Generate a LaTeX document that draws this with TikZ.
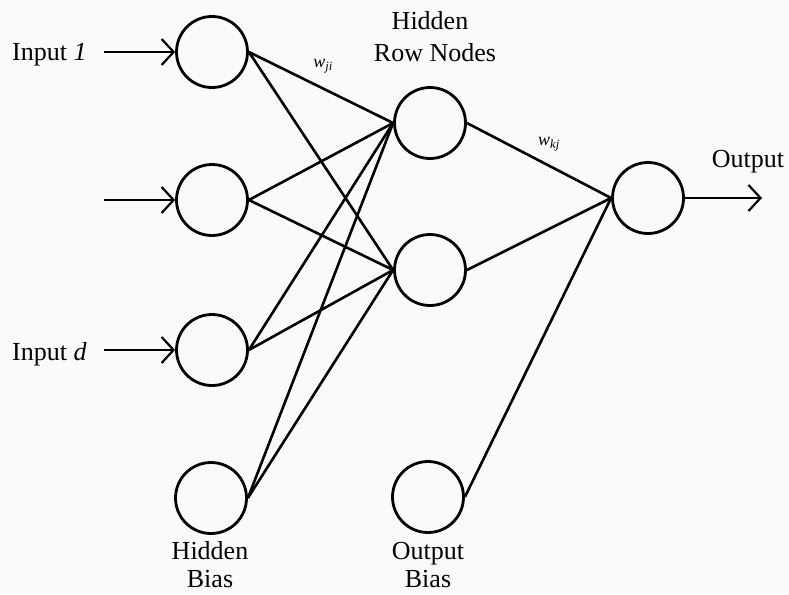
\documentclass[tikz,border=0pt]{standalone}
\usepackage{fontspec}
\setmainfont{Liberation Serif}
\usetikzlibrary{arrows.meta}
\begin{document}
\begin{tikzpicture}[x=1pt,y=-1pt,
  neuron/.style={circle,draw,line width=2.8pt,minimum size=71pt,inner sep=0pt},
  conn/.style={line width=2.6pt},
  inarrow/.style={line width=2.5pt,-{Straight Barb[length=12pt,width=26pt,line width=2.2pt]}},
  lbl/.style={font=\fontsize{26}{33}\selectfont,inner sep=0pt,anchor=base},
  wlbl/.style={font=\fontsize{18}{20}\selectfont\itshape,inner sep=0pt}]
\fill[gray!4] (0,0) rectangle (789,594);
\useasboundingbox (0,0) rectangle (789,594);
\node[neuron] (i1) at (212,52) {};
\node[neuron] (i2) at (212,200) {};
\node[neuron] (i3) at (212,350) {};
\node[neuron] (hb) at (211,498) {};
\node[neuron] (h1) at (430,123) {};
\node[neuron] (h2) at (430,270) {};
\node[neuron] (ob) at (428,497) {};
\node[neuron] (o) at (648,198) {};
\coordinate (s1) at (104,52);
\coordinate (s2) at (104,200);
\coordinate (s3) at (104,350);
\coordinate (e) at (762,198);
\node[lbl,anchor=base west] (l1) at (12,60) {Input \textit{1}};
\node[lbl,anchor=base west] (l3) at (12,360) {Input \textit{d}};
\node[lbl] (lh1) at (430,30) {Hidden};
\node[lbl] (lh2) at (435,62) {Row Nodes};
\node[lbl] (lo) at (748,167) {Output};
\node[lbl] (lhb1) at (210,559) {Hidden};
\node[lbl] (lhb2) at (210,587) {Bias};
\node[lbl] (lob1) at (428,559) {Output};
\node[lbl] (lob2) at (428,587) {Bias};
\node[wlbl] (wji) at (323,66) {w\textsubscript{ji}};
\node[wlbl] (wkj) at (549,144) {w\textsubscript{kj}};
\draw[inarrow] (s1) -- (i1.west);
\draw[inarrow] (s2) -- (i2.west);
\draw[inarrow] (s3) -- (i3.west);
\draw[inarrow] (o.east) -- (e);
\foreach \a in {i1,i2,i3,hb}{
  \draw[conn] (\a.east) -- (h1.west);
  \draw[conn] (\a.east) -- (h2.west);
}
\draw[conn] (h1.east) -- (o.west);
\draw[conn] (h2.east) -- (o.west);
\draw[conn] (ob.east) -- (o.west);
\end{tikzpicture}
\end{document}
